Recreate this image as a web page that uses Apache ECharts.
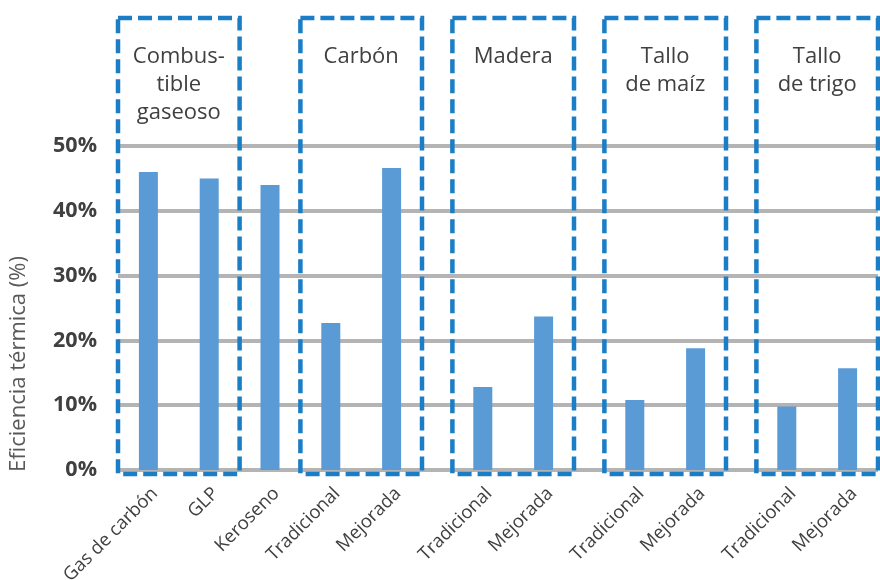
<!DOCTYPE html>
<html>
<head>
<meta charset="utf-8">
<script src="https://cdn.jsdelivr.net/npm/echarts@6/dist/echarts.min.js"></script>
<style>
  html, body { margin: 0; padding: 0; background: #fff; }
  #chart { width: 880px; height: 580px; }
</style>
</head>
<body>
<div id="chart"></div>
<script>
// Thermal efficiency of cooking fuels and stoves (%)
const fuelLabels = ['Gas de carbón', 'GLP', 'Keroseno', 'Tradicional', 'Mejorada',
  'Tradicional', 'Mejorada', 'Tradicional', 'Mejorada', 'Tradicional', 'Mejorada'];
const efficiency = [46, 45, 44, 22.7, 46.6, 12.8, 23.7, 10.8, 18.8, 9.8, 15.7];
const groupNames = ['Combus-\ntible\ngaseoso', 'Carbón', 'Madera', 'Tallo\nde maíz', 'Tallo\nde trigo'];
const groupMembers = [[0, 1], [3, 4], [5, 6], [7, 8], [9, 10]];
const yMin = 0, yMax = 50, yStep = 10;

// Spacing on the category axis: empty slots placed before each bar
const gapsBefore = [1, 1, 1, 1, 1, 2, 1, 2, 1, 2, 1];
const axisCats = [];
const axisVals = [];
const slotOf = [];
fuelLabels.forEach(function (lab, i) {
  for (let g = 0; g < gapsBefore[i]; g++) { axisCats.push(''); axisVals.push('-'); }
  slotOf.push(axisCats.length);
  axisCats.push(lab);
  axisVals.push(efficiency[i]);
});
axisCats.push(''); axisVals.push('-');

const FONT = 'Open Sans';
const TEXT = '#404040';
const BOX = '#1B7DC5';

const chart = echarts.init(document.getElementById('chart'), null, { renderer: 'canvas' });
chart.setOption({
  animation: false,
  backgroundColor: '#ffffff',
  textStyle: { fontFamily: FONT },
  grid: { left: 118, right: 2, top: 146, bottom: 110, containLabel: false, outerBoundsMode: 'none' },
  xAxis: {
    type: 'category',
    data: axisCats,
    boundaryGap: false,
    axisLine: { show: false },
    axisTick: { show: false },
    splitLine: { show: false },
    axisLabel: { interval: 0, rotate: 45, fontSize: 18.5, color: TEXT, fontFamily: FONT, margin: 27, padding: [0, -9, 0, 0] }
  },
  yAxis: {
    type: 'value',
    min: yMin, max: yMax, interval: yStep,
    axisLine: { show: false },
    axisTick: { show: false },
    splitLine: { lineStyle: { color: '#B4B4B4', width: 4 } },
    axisLabel: { formatter: '{value}%', fontSize: 21.5, fontWeight: 'bold', color: TEXT, fontFamily: FONT, margin: 21 }
  },
  series: [{
    type: 'bar',
    data: axisVals,
    barWidth: 19,
    itemStyle: { color: '#5B9BD5' },
    z: 2
  }]
});

// Dashed group frames and their titles
function drawGroups() {
  const base = chart.convertToPixel({ yAxisIndex: 0 }, yMin);
  const top = 18;
  const bottom = base + 4;
  const els = [];
  groupMembers.forEach(function (m, gi) {
    const x0 = chart.convertToPixel({ xAxisIndex: 0 }, slotOf[m[0]] - 1);
    const x1 = chart.convertToPixel({ xAxisIndex: 0 }, slotOf[m[m.length - 1]] + 1);
    els.push({
      type: 'rect', z: 10,
      shape: { x: x0, y: top, width: x1 - x0, height: bottom - top },
      style: { fill: 'none', stroke: BOX, lineWidth: 4.5, lineDash: [14, 6] }
    });
    els.push({
      type: 'text', z: 11,
      x: (x0 + x1) / 2, y: 43,
      style: {
        text: groupNames[gi], fontFamily: FONT, fontSize: 22, lineHeight: 28,
        fill: TEXT, align: 'center', verticalAlign: 'top'
      }
    });
  });
  els.push({
    type: 'text', z: 11,
    x: 19, y: 364, rotation: Math.PI / 2,
    style: {
      text: 'Eficiencia térmica (%)', fontFamily: FONT, fontSize: 22,
      fill: '#595959', align: 'center', verticalAlign: 'middle'
    }
  });
  chart.setOption({ graphic: els });
}
drawGroups();
</script>
</body>
</html>
